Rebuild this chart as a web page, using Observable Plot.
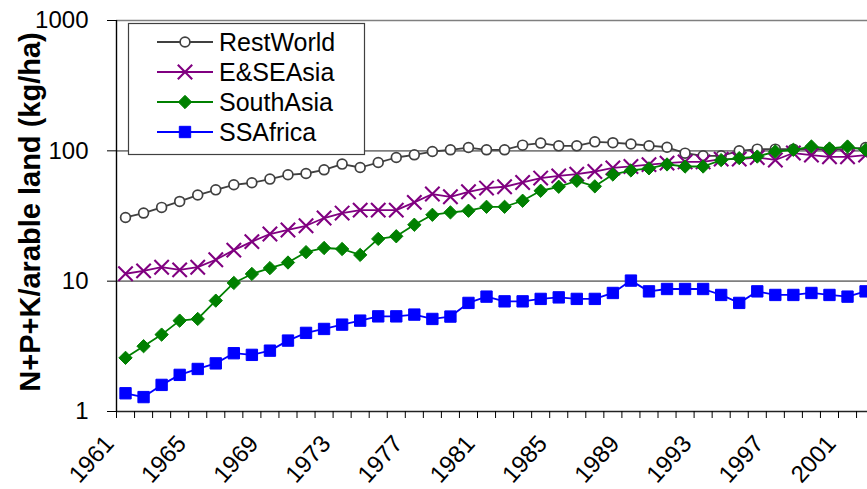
<!DOCTYPE html>
<html>
<head>
<meta charset="utf-8">
<script src="https://cdn.jsdelivr.net/npm/d3@7"></script>
<script src="https://cdn.jsdelivr.net/npm/@observablehq/plot@0.6"></script>
<style>
  html, body { margin: 0; padding: 0; background: #fff; }
  #chart { position: relative; width: 867px; height: 489px; overflow: hidden; }
</style>
</head>
<body>
<div id="chart"></div>
<script>
const years = [1961,1962,1963,1964,1965,1966,1967,1968,1969,1970,1971,1972,1973,1974,1975,1976,1977,1978,1979,1980,1981,1982,1983,1984,1985,1986,1987,1988,1989,1990,1991,1992,1993,1994,1995,1996,1997,1998,1999,2000,2001,2002];

const restWorld = [30.8,33.3,36.8,40.9,45.8,50.2,54.9,56.9,60.7,65.5,67.0,71.5,79.1,74.5,81.3,88.9,93.2,98.8,101.8,106,101.8,101.8,110.6,114.6,109.2,109.2,117.2,115.5,112.8,109.5,106.5,96,91.6,91.6,100,103,103,103,103,103,103,106];
const eseAsia   = [11.4,12.0,12.8,12.2,12.8,14.6,17.3,20.1,23.0,24.7,26.6,30.5,33.3,35.1,35.1,35.1,40.2,46.6,44.4,48.5,51.8,53.0,57.2,61.8,64.3,66.3,69.4,74.0,75.9,78.4,80.5,82.2,82.2,86.4,86.4,88.9,85.1,96.2,92.7,90.0,90.0,92.7];
const southAsia = [2.58,3.17,3.89,4.98,5.13,7.09,9.69,11.36,12.6,13.9,16.7,17.97,17.65,15.9,21.1,22.1,27.1,32.3,33.7,34.7,37.2,37.2,41.4,49.4,53.0,58.9,53.4,65.8,70.7,73.4,78.6,75.8,75.8,84.9,87.9,90.4,98.8,101.8,107.9,104.2,107.9,101.8];
const ssAfrica  = [1.38,1.29,1.60,1.91,2.12,2.34,2.80,2.72,2.93,3.50,4.01,4.30,4.64,4.98,5.37,5.37,5.54,5.13,5.35,6.81,7.61,7.0,7.0,7.31,7.51,7.31,7.31,8.12,10.1,8.35,8.71,8.71,8.71,7.84,6.81,8.35,7.84,7.84,8.12,7.84,7.61,8.35];

const seriesNames = ["RestWorld", "E&SEAsia", "SouthAsia", "SSAfrica"];
const seriesValues = [restWorld, eseAsia, southAsia, ssAfrica];
const seriesColors = ["#404040", "#800080", "#008000", "#0000ff"];
const seriesSymbols = ["circle", "times", "diamond2", "square"];
const seriesFills = ["#ffffff", "none", "#008000", "#0000ff"];
const seriesR = [4.9, 6.6, 6.0, 6.4];
const seriesMarkStroke = [1.7, 2.1, 1, 1];

const yTicks = [1, 10, 100, 1000];
const xLabelYears = [1961,1965,1969,1973,1977,1981,1985,1989,1993,1997,2001];
const yLabel = "N+P+K/arable land (kg/ha)";

const table = [];
seriesNames.forEach((name, i) => {
  years.forEach((yr, j) => table.push({series: name, year: yr, value: seriesValues[i][j]}));
});

const boundaries = years.map(y => y - 0.5).concat([years[years.length - 1] + 0.5]);
const font = "'Liberation Sans', Arial, sans-serif";

const marks = [
  Plot.ruleY([10, 100, 1000], {stroke: "#7f7f7f", strokeWidth: 1.6}),
  Plot.ruleY([1], {stroke: "#222", strokeWidth: 1.4}),
  Plot.ruleX([1960.5], {stroke: "#000", strokeWidth: 1.4}),
  Plot.axisY({ticks: yTicks, tickSize: 9, tickPadding: 19, tickFormat: d3.format("d"), fontSize: 24, stroke: "#000", label: null}),
  Plot.axisX({ticks: boundaries, tickSize: 7, tickFormat: () => "", stroke: "#000", label: null}),
  Plot.text(xLabelYears, {x: d => d, y: () => 1, text: d => String(d), rotate: -48, textAnchor: "end", lineAnchor: "middle", dx: -16, dy: 28, fontSize: 24, fill: "#000"}),
  Plot.text([yLabel], {frameAnchor: "left", textAnchor: "middle", lineAnchor: "middle", rotate: -90, dx: -86, dy: -4, fontSize: 29, fontWeight: "bold", fill: "#000"})
];

seriesNames.forEach((name, i) => {
  const d = table.filter(r => r.series === name);
  marks.push(Plot.line(d, {x: "year", y: "value", stroke: seriesColors[i], strokeWidth: 1.8}));
  marks.push(Plot.dot(d, {x: "year", y: "value", symbol: () => seriesSymbols[i], r: seriesR[i], stroke: seriesColors[i], fill: seriesFills[i], strokeWidth: seriesMarkStroke[i]}));
});

const chart = Plot.plot({
  width: 867,
  height: 489,
  marginLeft: 116,
  marginRight: 0,
  marginTop: 20,
  marginBottom: 78,
  style: {fontFamily: font, color: "#000", background: "#fff"},
  x: {type: "linear", domain: [1960.5, 1960.5 + 751 / 18.05], axis: null},
  y: {type: "log", domain: [1, 1000], axis: null},
  symbol: {type: "identity"},
  marks
});

const container = document.getElementById("chart");
container.appendChild(chart);

// legend overlay
const lg = d3.select(container).append("svg")
  .attr("width", 867).attr("height", 489)
  .style("position", "absolute").style("left", "0px").style("top", "0px");
lg.append("rect").attr("x", 128.5).attr("y", 23.5).attr("width", 236).attr("height", 131)
  .attr("fill", "#fff").attr("stroke", "#404040").attr("stroke-width", 1.2);
const symMap = {circle: d3.symbolCircle, times: d3.symbolTimes, diamond2: d3.symbolDiamond2, square: d3.symbolSquare};
seriesNames.forEach((name, i) => {
  const cy = 42 + i * 30;
  lg.append("line").attr("x1", 157).attr("x2", 213).attr("y1", cy).attr("y2", cy)
    .attr("stroke", seriesColors[i]).attr("stroke-width", 1.8);
  lg.append("path")
    .attr("d", d3.symbol(symMap[seriesSymbols[i]], Math.PI * seriesR[i] * seriesR[i])())
    .attr("transform", `translate(185,${cy})`)
    .attr("fill", seriesFills[i]).attr("stroke", seriesColors[i]).attr("stroke-width", seriesMarkStroke[i]);
  lg.append("text").attr("x", 219).attr("y", cy).attr("dy", "0.35em")
    .attr("font-family", font).attr("font-size", 25).attr("fill", "#000").text(name);
});
</script>
</body>
</html>
